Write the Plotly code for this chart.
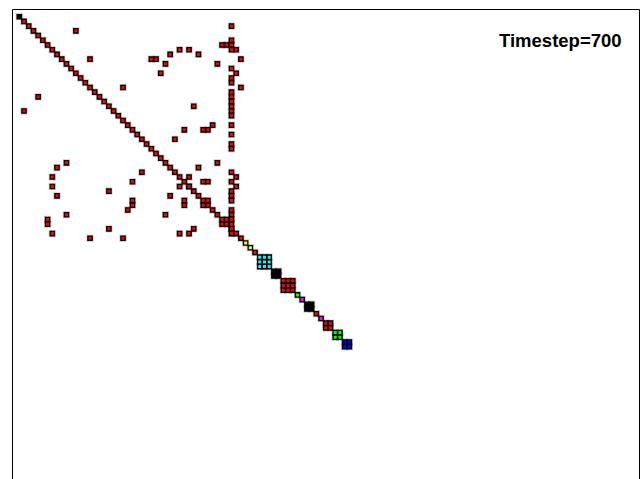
import plotly.graph_objects as go

# Matrix dimension
n_size = 71

# Diagonal blocks: start index, block size, colour
block_start = [0] + list(range(1, 48)) + [48, 49, 50, 51, 54, 56, 59, 60, 61, 63, 64, 65, 67, 69]
block_size = [1] * 48 + [1, 1, 1, 3, 2, 3, 1, 1, 2, 1, 1, 2, 2, 2]
block_color = (["black"] + ["red"] * 47 +
               ["yellow", "yellow", "red", "cyan", "black", "red", "lime", "magenta",
                "black", "red", "magenta", "red", "lime", "blue"])

# Off-diagonal nonzeros (row, column), all drawn in red
off_rows = [2, 3, 5, 6, 6, 6, 7, 7, 7, 7, 8, 8, 9, 9, 9, 9, 10, 10, 11, 12, 12, 13, 14,
            15, 15, 16, 17, 17, 18, 19, 19, 20, 20, 21, 23, 23, 24, 24, 24, 25, 26, 27,
            28, 31, 31, 32, 32, 33, 33, 34, 34, 34, 35, 35, 35, 35, 36, 36, 36, 36, 37,
            37, 38, 38, 38, 39, 39, 39, 39, 40, 40, 40, 41, 41, 42, 42, 42, 43, 43, 43,
            44, 44, 44, 45, 45, 45, 46, 46, 46, 46, 47, 47]
off_cols = [45, 12, 45, 43, 44, 45, 34, 36, 45, 46, 32, 38, 15, 28, 29, 47, 31, 42, 45, 30,
            46, 45, 45, 22, 47, 45, 4, 45, 45, 37, 45, 1, 45, 45, 41, 45, 35, 39, 40, 45,
            33, 45, 45, 10, 42, 8, 38, 26, 45, 7, 36, 46, 24, 39, 40, 45, 7, 34, 36, 46,
            19, 45, 8, 32, 45, 24, 35, 40, 45, 24, 35, 39, 23, 45, 10, 31, 45, 6, 44, 45,
            6, 43, 45, 19, 37, 45, 7, 34, 36, 45, 15, 22]

# Expand everything into per-colour cell lists
cells = {}
for s, k, c in zip(block_start, block_size, block_color):
    for r in range(s, s + k):
        for q in range(s, s + k):
            cells.setdefault(c, ([], []))
            cells[c][0].append(q)
            cells[c][1].append(r)
for r, q in zip(off_rows, off_cols):
    cells.setdefault("red", ([], []))
    cells["red"][0].append(q)
    cells["red"][1].append(r)

fig = go.Figure()

all_x = [x for c in cells for x in cells[c][0]]
all_y = [y for c in cells for y in cells[c][1]]
# soft shadow under each cell
fig.add_trace(go.Scatter(
    x=all_x, y=all_y, mode="markers", hoverinfo="skip",
    marker=dict(symbol="square", size=7.2, color="rgba(0,0,0,0.2)", line=dict(width=0)),
))
for c, (xs, ys) in cells.items():
    fig.add_trace(go.Scatter(
        x=xs, y=ys, mode="markers", name=c,
        marker=dict(symbol="square", size=4.3, color=c,
                    line=dict(width=1.3, color="black")),
    ))

W, H = 642, 479
x0_px, y0_px, step = 19.3, 16.7, 4.715
xr = [(0 - x0_px) / step, (W - x0_px) / step]
yr = [(H - y0_px) / step, (0 - y0_px) / step]

fig.update_layout(
    width=W, height=H,
    margin=dict(l=0, r=0, t=0, b=0),
    paper_bgcolor="white", plot_bgcolor="white",
    showlegend=False,
    xaxis=dict(range=xr, visible=False, fixedrange=True),
    yaxis=dict(range=yr, visible=False, fixedrange=True),
    shapes=[
        dict(type="line", xref="paper", yref="paper",
             x0=12.5 / W, x1=12.5 / W, y0=-0.05, y1=1 - 9.5 / H,
             line=dict(color="black", width=1)),
        dict(type="line", xref="paper", yref="paper",
             x0=639.5 / W, x1=639.5 / W, y0=-0.05, y1=1 - 9.5 / H,
             line=dict(color="black", width=1)),
        dict(type="line", xref="paper", yref="paper",
             x0=12.5 / W, x1=639.5 / W, y0=1 - 9.5 / H, y1=1 - 9.5 / H,
             line=dict(color="black", width=1)),
    ],
    annotations=[
        dict(text="<b>Timestep=700</b>", xref="paper", yref="paper",
             x=624 / W, y=1 - 40 / H, xanchor="right", yanchor="middle",
             showarrow=False,
             font=dict(family="Liberation Sans, Arial, sans-serif", size=18.5, color="black")),
    ],
)

fig.write_html("out.html")
